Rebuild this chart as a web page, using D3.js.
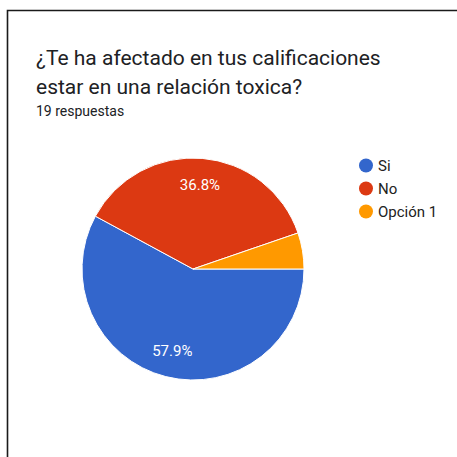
<!DOCTYPE html>
<html>
<head>
<meta charset="utf-8">
<script src="https://cdn.jsdelivr.net/npm/d3@7"></script>
<style>
  html, body { margin: 0; padding: 0; background: #fff; }
  svg { display: block; }
</style>
</head>
<body>
<svg id="chart" width="457" height="457"></svg>
<script>
// Survey answers
const categories = ["Si", "No", "Opción 1"];
const counts = [11, 7, 1];
const colors = ["#3366cc", "#dc3912", "#ff9900"];
const titleLines = ["¿Te ha afectado en tus calificaciones", "estar en una relación toxica?"];
const subtitle = "19 respuestas";

const svg = d3.select("#chart");
const W = 457, H = 457;
const font = "Roboto, 'Noto Sans', Arial, sans-serif";

// Card frame (top and left edges visible)
svg.append("path")
  .attr("d", `M7.5,${H} L7.5,10.5 L${W},10.5`)
  .attr("fill", "none")
  .attr("stroke", "#1a1a1a")
  .attr("stroke-width", 1.6);

// Title
svg.append("g").selectAll("text")
  .data(titleLines)
  .join("text")
  .attr("x", 36)
  .attr("y", (d, i) => 65 + i * 29)
  .attr("font-family", font)
  .attr("font-size", 21)
  .attr("fill", "#202124")
  .text(d => d);

svg.append("text")
  .attr("x", 36)
  .attr("y", 116)
  .attr("font-family", font)
  .attr("font-size", 14)
  .attr("fill", "#202124")
  .text(subtitle);

// Pie
const cx = 193, cy = 269, r = 111;
const total = d3.sum(counts);
const data = categories.map((c, i) => ({ name: c, value: counts[i], color: colors[i] }));

const pie = d3.pie()
  .value(d => d.value)
  .sort(null)
  .startAngle(Math.PI / 2)
  .endAngle(Math.PI / 2 + 2 * Math.PI);

const arc = d3.arc().innerRadius(0).outerRadius(r);
const labelArc = d3.arc().innerRadius(r * 0.76).outerRadius(r * 0.76);

const g = svg.append("g").attr("transform", `translate(${cx},${cy})`);
const arcs = pie(data);

g.selectAll("path.slice")
  .data(arcs)
  .join("path")
  .attr("class", "slice")
  .attr("d", arc)
  .attr("fill", d => d.data.color)
  .attr("stroke", "#fff")
  .attr("stroke-width", 1);

const fmt = v => (v / total * 100).toFixed(1) + "%";

g.selectAll("text.pct")
  .data(arcs.filter(d => d.data.value / total > 0.1))
  .join("text")
  .attr("class", "pct")
  .attr("transform", d => `translate(${labelArc.centroid(d)})`)
  .attr("text-anchor", "middle")
  .attr("dy", "0.36em")
  .attr("font-family", font)
  .attr("font-size", 15)
  .attr("fill", "#fff")
  .text(d => fmt(d.data.value));

// Legend
const legend = svg.append("g").selectAll("g")
  .data(data)
  .join("g")
  .attr("transform", (d, i) => `translate(366,${165.5 + i * 23})`);

legend.append("circle")
  .attr("r", 7)
  .attr("fill", d => d.color);

legend.append("text")
  .attr("x", 12)
  .attr("dy", "0.36em")
  .attr("font-family", font)
  .attr("font-size", 15)
  .attr("fill", "#222")
  .text(d => d.name);
</script>
</body>
</html>
